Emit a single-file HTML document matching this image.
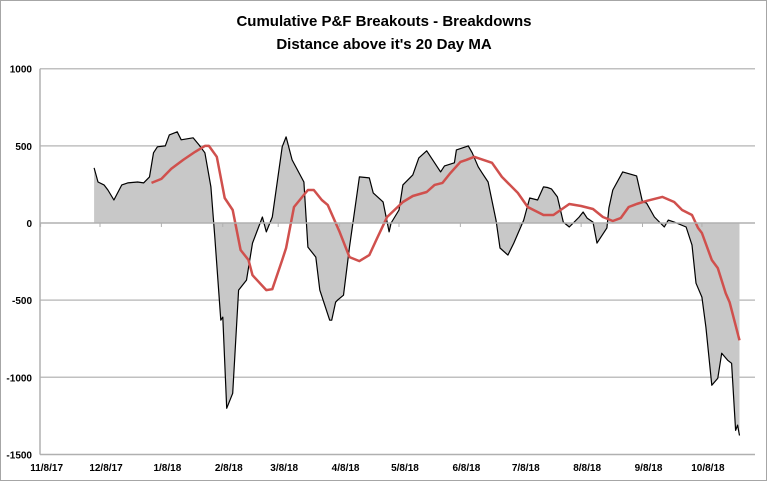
<!DOCTYPE html>
<html><head><meta charset="utf-8"><style>
html,body{margin:0;padding:0;background:#fff}
svg text{font-family:"Liberation Sans",Arial,sans-serif}
</style></head><body>
<svg id="chart" width="767" height="481" viewBox="0 0 767 481" xmlns="http://www.w3.org/2000/svg">
<rect x="0.5" y="0.5" width="766" height="480" fill="#fff" stroke="#a6a6a6"/>
<text x="384" y="26" text-anchor="middle" font-size="15" font-weight="bold">Cumulative P&amp;F Breakouts - Breakdowns</text>
<text x="384" y="49" text-anchor="middle" font-size="15" font-weight="bold">Distance above it's 20 Day MA</text>
<g id="grid"></g>
<g id="marks"></g>
<g id="axes"></g>
</svg>
<script>
const yTicks = [1000, 500, 0, -500, -1000, -1500];
const xTickDays = [0, 30, 61, 92, 120, 151, 181, 212, 242, 273, 304, 334];
const xTickLabels = ["11/8/17","12/8/17","1/8/18","2/8/18","3/8/18","4/8/18","5/8/18","6/8/18","7/8/18","8/8/18","9/8/18","10/8/18"];
const diffDays = [27,29,32,34,37,41,44,49,52,55,57,59,63,65,69,71,77,80,83,86,88,91,92,94,97,100,104,107,112,114,117,122,124,127,133,135,139,141,146,147,149,150,153,156,161,166,168,173,176,177,181,183,188,191,195,202,204,209,210,216,218,221,223,226,230,232,236,239,244,247,251,254,256,258,261,264,267,272,274,276,279,281,286,287,289,294,301,304,306,310,315,317,320,326,329,331,334,336,339,342,344,347,349,351,352,353];
const diffValues = [357,266,247,214,149,247,260,266,260,299,455,494,500,571,591,539,552,506,455,234,-91,-630,-610,-1201,-1104,-435,-370,-130,39,-58,39,494,558,409,266,-156,-221,-435,-630,-630,-513,-500,-468,-156,299,292,195,136,-58,0,84,247,312,422,468,331,370,390,474,500,455,364,325,266,19,-162,-208,-130,19,162,149,234,230,221,169,6,-26,39,71,32,6,-130,-32,97,214,331,305,136,130,39,-26,19,6,-26,-143,-390,-480,-675,-1052,-1006,-844,-890,-909,-1344,-1310,-1377];
const maDays = [56,61,66,72,78,83,85,89,93,97,101,105,107,114,117,122,124,128,135,138,142,145,151,156,161,166,170,175,183,188,195,199,203,207,212,215,219,228,233,241,246,249,254,259,267,273,279,284,289,293,297,301,306,314,320,324,329,332,334,339,342,346,348,353];
const maValues = [260,286,351,409,461,500,500,429,162,84,-175,-240,-338,-435,-429,-240,-162,104,214,214,149,117,-58,-221,-247,-208,-97,39,136,175,201,247,260,325,396,409,429,390,299,195,104,84,52,52,123,110,91,39,13,32,104,123,143,169,136,84,52,-32,-65,-240,-292,-455,-513,-760];

const NS = "http://www.w3.org/2000/svg";
const X0 = 40.6, PXD = 1.98, PL = 40, PR = 755;
const xS = d => X0 + d * PXD;
const yS = v => 223 - v * 0.1543;
const grid = document.getElementById('grid'), marks = document.getElementById('marks'), axes = document.getElementById('axes');
function mk(tag, attrs, parent){const e=document.createElementNS(NS,tag);for(const k in attrs)e.setAttribute(k,attrs[k]);parent.appendChild(e);return e;}

yTicks.forEach(v=>{
  if(v!==0 && v!==-1500){
    const l=mk('line',{x1:PL,x2:PR,y1:yS(v),y2:yS(v),stroke:'#c0c0c0','stroke-width':1.5},grid);
    
    
  }
  const t=mk('text',{x:32,y:yS(v)+4,'text-anchor':'end','font-size':10,'font-weight':'bold'},axes);
  t.textContent=v;
  
  
});

// area fill
let pts = diffDays.map((d,i)=>xS(d).toFixed(1)+','+yS(diffValues[i]).toFixed(1));
const fillPts = xS(diffDays[0]).toFixed(1)+','+yS(0)+' '+pts.join(' ')+' '+xS(diffDays[diffDays.length-1]).toFixed(1)+','+yS(0);
const area=mk('polygon',{points:fillPts,fill:'#c8c8c8',stroke:'none'},marks);



// axes lines
const zl=mk('line',{x1:PL,x2:PR,y1:yS(0),y2:yS(0),stroke:'#b0b0b0','stroke-width':1.5},axes);


const bl=mk('line',{x1:PL,x2:PR,y1:yS(-1500),y2:yS(-1500),stroke:'#b0b0b0','stroke-width':1.5},axes);


const vl=mk('line',{x1:PL,x2:PL,y1:yS(1000),y2:yS(-1500),stroke:'#b0b0b0','stroke-width':1.5},axes);



xTickDays.forEach((d,i)=>{
  const tk=mk('line',{x1:xS(d),x2:xS(d),y1:yS(0),y2:yS(0)+4,stroke:'#b0b0b0','stroke-width':1},axes);
  
  
  const t=mk('text',{x:xS(d)+6,y:471,'text-anchor':'middle','font-size':10,'font-weight':'bold'},axes);
  t.textContent=xTickLabels[i];
  
  
});

const bline=mk('polyline',{points:pts.join(' '),fill:'none',stroke:'#000','stroke-width':1.2,'stroke-linejoin':'round'},marks);


const mpts = maDays.map((d,i)=>xS(d).toFixed(1)+','+yS(maValues[i]).toFixed(1)).join(' ');
const rline=mk('polyline',{points:mpts,fill:'none',stroke:'#d0504d','stroke-width':2.5,'stroke-linejoin':'round'},marks);


</script>
</body></html>
